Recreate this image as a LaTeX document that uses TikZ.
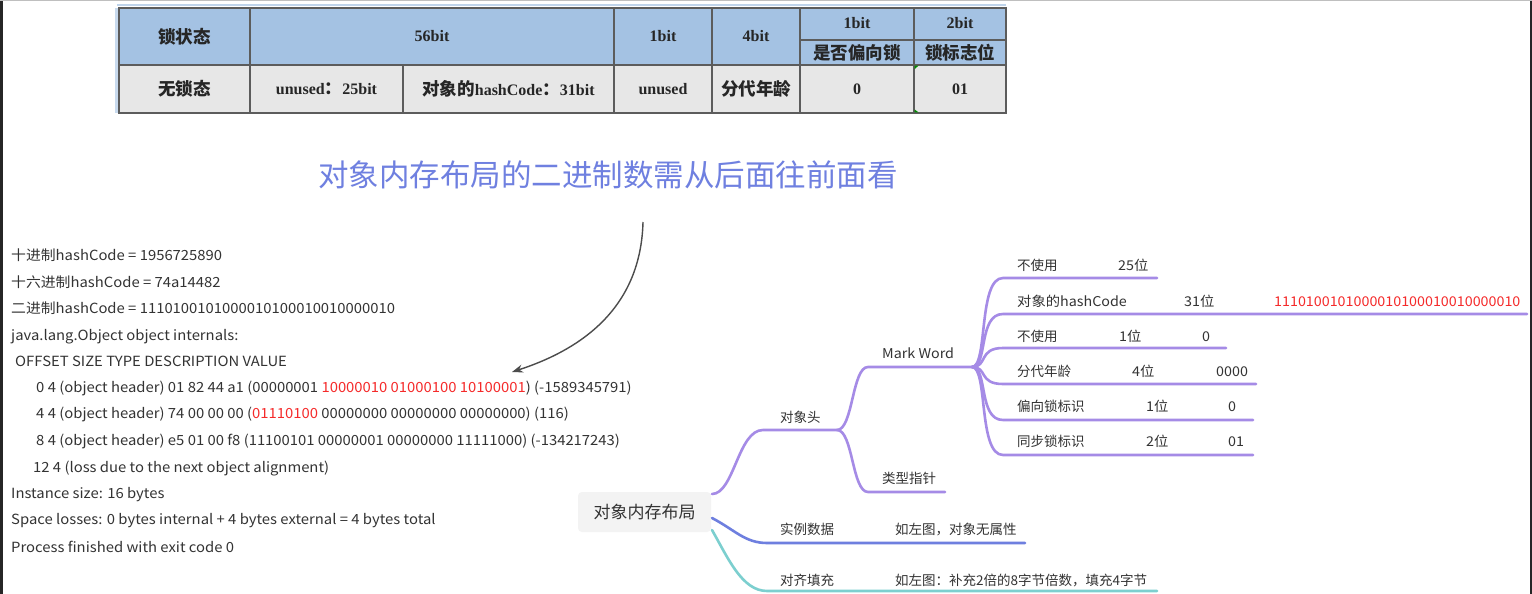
\documentclass[tikz,border=0pt]{standalone}
\usepackage{fontspec}
\setmainfont{Noto Sans CJK SC}
\newfontfamily\widesans{Noto Sans CJK SC}[FakeStretch=1.06]
\newfontfamily\serifl{Liberation Serif}
\usetikzlibrary{arrows.meta}

\definecolor{hdrblue}{HTML}{A4C2E3}
\definecolor{rowgray}{HTML}{E7E7E7}
\definecolor{gridc}{HTML}{5C5C5C}
\definecolor{titleblue}{HTML}{6F80E0}
\definecolor{codegray}{HTML}{333333}
\definecolor{hotred}{HTML}{F52A2A}
\definecolor{mmpurple}{HTML}{A58BE6}
\definecolor{mmblue}{HTML}{6E7FDF}
\definecolor{mmteal}{HTML}{7CCFCF}
\definecolor{rootfill}{HTML}{F3F3F3}

% table text: bold serif for Latin, bold CJK slightly larger
\newcommand{\tlat}[1]{{\serifl\bfseries #1}}
\newcommand{\tzh}[1]{{\fontsize{17.5}{17.5}\selectfont\bfseries #1}}

\tikzset{
  cell/.style={inner sep=0pt, text=black!85, font=\fontsize{16}{16}\selectfont},
  codeline/.style={anchor=base west, inner sep=0pt, text=codegray, font=\widesans\fontsize{14}{14}\selectfont},
  mmlabel/.style={anchor=base west, inner sep=0pt, text=codegray, font=\fontsize{13.5}{13.5}\selectfont},
  mmwide/.style={mmlabel, font=\widesans\fontsize{13.5}{13.5}\selectfont},
  gridline/.style={draw=gridc, line width=1.3pt},
  pbranch/.style={draw=mmpurple, line width=2.6pt, line cap=round},
  bbranch/.style={draw=mmblue, line width=2.6pt, line cap=round},
  tbranch/.style={draw=mmteal, line width=2.6pt, line cap=round},
}

\begin{document}
\begin{tikzpicture}[x=1pt, y=-1pt]
\useasboundingbox (0,0) rectangle (1532,594);
\fill[white] (0,0) rectangle (1532,594);

% window frame
\fill[black!85] (0,0) rectangle (2.5,594);
\fill[black!85] (1529.5,0) rectangle (1532,594);
\draw[black!25, line width=1.5pt] (0,0.75) -- (1532,0.75);

% ---------- Mark Word bit table ----------
\fill[hdrblue!60] (115,8) rectangle (118,113);
\draw[hdrblue!70, line width=1.5pt] (117,5) -- (1006,5);
\fill[hdrblue] (119,8) rectangle (1006,65);
\fill[rowgray] (119,65) rectangle (1006,113);
\draw[gridline] (119,8) rectangle (1006,113);
\draw[gridline] (119,65) -- (1006,65);
\draw[gridline] (800,40) -- (1006,40);
\foreach \cx in {250,614,712,800,914} \draw[gridline] (\cx,8) -- (\cx,113);
\draw[gridline] (403,65) -- (403,113);
\fill[green!55!black] (914.6,65.6) -- ++(4,0) -- ++(-4,3.5) -- cycle;
\fill[green!55!black] (914.6,112.4) -- ++(4,0) -- ++(-4,-3) -- cycle;

\node[cell] (hLock)  at (184.5,36.5) {\tzh{锁状态}};
\node[cell] (h56)    at (432,36.5)   {\tlat{56bit}};
\node[cell] (h1a)    at (663,36.5)   {\tlat{1bit}};
\node[cell] (h4)     at (756,36.5)   {\tlat{4bit}};
\node[cell] (h1b)    at (857,23)     {\tlat{1bit}};
\node[cell] (h2)     at (960,23)     {\tlat{2bit}};
\node[cell] (hBias)  at (857,53)     {\tzh{是否偏向锁}};
\node[cell] (hFlag)  at (960,53)     {\tzh{锁标志位}};
\node[cell] (rState) at (184.5,89)   {\tzh{无锁态}};
\node[cell] (rUn25)  at (326.5,89)   {\tlat{unused}\tzh{：}\tlat{25bit}};
\node[cell] (rHash)  at (508.5,89)   {\tzh{对象的}\tlat{hashCode}\tzh{：}\tlat{31bit}};
\node[cell] (rUn1)   at (663,89)     {\tlat{unused}};
\node[cell] (rAge)   at (756,89)     {\tzh{分代年龄}};
\node[cell] (rBias)  at (857,89)     {\tlat{0}};
\node[cell] (rFlag)  at (960,89)     {\tlat{01}};

% ---------- heading ----------
\node[inner sep=0pt, text=titleblue, font=\fontsize{30.5}{30.5}\selectfont] (title) at (608,175)
  {对象内存布局的二进制数需从后面往前面看};

% ---------- console output ----------
\node[codeline] (c1)  at (11,260) {十进制hashCode = 1956725890};
\node[codeline] (c2)  at (11,287) {十六进制hashCode = 74a14482};
\node[codeline] (c3)  at (11,313) {二进制hashCode = 1110100101000010100010010000010};
\node[codeline] (c4)  at (11,340) {java.lang.Object object internals:};
\node[codeline] (c5)  at (15,366) {OFFSET SIZE TYPE DESCRIPTION VALUE};
\node[codeline] (c6)  at (36,392) {0 4 (object header) 01 82 44 a1 (00000001 \textcolor{hotred}{10000010 01000100 10100001}) (-1589345791)};
\node[codeline] (c7)  at (36,418) {4 4 (object header) 74 00 00 00 (\textcolor{hotred}{01110100} 00000000 00000000 00000000) (116)};
\node[codeline] (c8)  at (36,445) {8 4 (object header) e5 01 00 f8 (11100101 00000001 00000000 11111000) (-134217243)};
\node[codeline] (c9)  at (33,472) {12 4 (loss due to the next object alignment)};
\node[codeline] (c10) at (11,498) {Instance size: 16 bytes};
\node[codeline] (c11) at (11,524) {Space losses: 0 bytes internal + 4 bytes external = 4 bytes total};
\node[codeline] (c12) at (11,552) {Process finished with exit code 0};

% pointer from the heading down to the first header word
\coordinate (arrTail) at (643,222);
\coordinate (arrTip)  at (512,372);
\draw[black!70, line width=1.4pt, -{Stealth[length=11pt,width=8pt]}]
  (arrTail) .. controls (641,300) and (592,346) .. (arrTip);

% ---------- mind map ----------
\node[fill=rootfill, rounded corners=4pt, minimum width=133pt, minimum height=40pt,
      inner sep=0pt, text=codegray, font=\fontsize{17}{17}\selectfont] (root) at (644.5,512) {对象内存布局};

\coordinate (rootA) at (712,494);
\coordinate (rootB) at (712,518);
\coordinate (rootC) at (712,530);

% object header
\coordinate (hdrS) at (763,430);  \coordinate (hdrE) at (837,430);
\draw[pbranch] (rootA) .. controls (734,494) and (738,430) .. (hdrS) -- (hdrE);
\node[mmlabel] (hdrL) at (780,422) {对象头};

\coordinate (mwS) at (868,367);  \coordinate (mwE) at (972,367);
\draw[pbranch] (hdrE) .. controls (853,430) and (852,367) .. (mwS) -- (mwE);
\node[mmwide] (mwL) at (882,358) {Mark Word};

\coordinate (kpS) at (868,492);  \coordinate (kpE) at (945,492);
\draw[pbranch] (hdrE) .. controls (853,430) and (852,492) .. (kpS) -- (kpE);
\node[mmlabel] (kpL) at (882,483) {类型指针};

% Mark Word fields
\foreach \nm/\yy/\xe in {fa/278/1157, fb/314/1527, fc/348/1226, fd/384/1256, fe/420/1253, ff/455/1253}{
  \coordinate (\nm S) at (1003,\yy);
  \coordinate (\nm E) at (\xe,\yy);
  \draw[pbranch] (mwE) .. controls (988,367) and (978,\yy) .. (\nm S) -- (\nm E);
}
\node[mmlabel] (faA) at (1017,270) {不使用};
\node[mmwide]  (faB) at (1118,270) {25位};
\node[mmwide]  (fbA) at (1017,306) {对象的hashCode};
\node[mmwide]  (fbB) at (1184,306) {31位};
\node[mmwide, text=hotred] (fbC) at (1274,306) {1110100101000010100010010000010};
\node[mmlabel] (fcA) at (1017,341) {不使用};
\node[mmwide]  (fcB) at (1119,341) {1位};
\node[mmwide]  (fcC) at (1202,341) {0};
\node[mmlabel] (fdA) at (1017,376) {分代年龄};
\node[mmwide]  (fdB) at (1132,376) {4位};
\node[mmwide]  (fdC) at (1216,376) {0000};
\node[mmlabel] (feA) at (1017,411) {偏向锁标识};
\node[mmwide]  (feB) at (1146,411) {1位};
\node[mmwide]  (feC) at (1228,411) {0};
\node[mmlabel] (ffA) at (1017,446) {同步锁标识};
\node[mmwide]  (ffB) at (1146,446) {2位};
\node[mmwide]  (ffC) at (1228,446) {01};

% instance data
\coordinate (idS) at (767,543);  \coordinate (idE) at (1025,543);
\draw[bbranch] (rootB) .. controls (735,530) and (745,543) .. (idS) -- (idE);
\node[mmlabel] (idL) at (780,534) {实例数据};
\node[mmlabel] (idN) at (895,534) {如左图，对象无属性};

% padding
\coordinate (pdS) at (767,591);  \coordinate (pdE) at (1157,591);
\draw[tbranch] (rootC) .. controls (728,558) and (742,591) .. (pdS) -- (pdE);
\node[mmlabel] (pdL) at (780,585) {对齐填充};
\node[mmlabel] (pdN) at (895,585) {如左图：补充2倍的8字节倍数，填充4字节};

\end{tikzpicture}
\end{document}
